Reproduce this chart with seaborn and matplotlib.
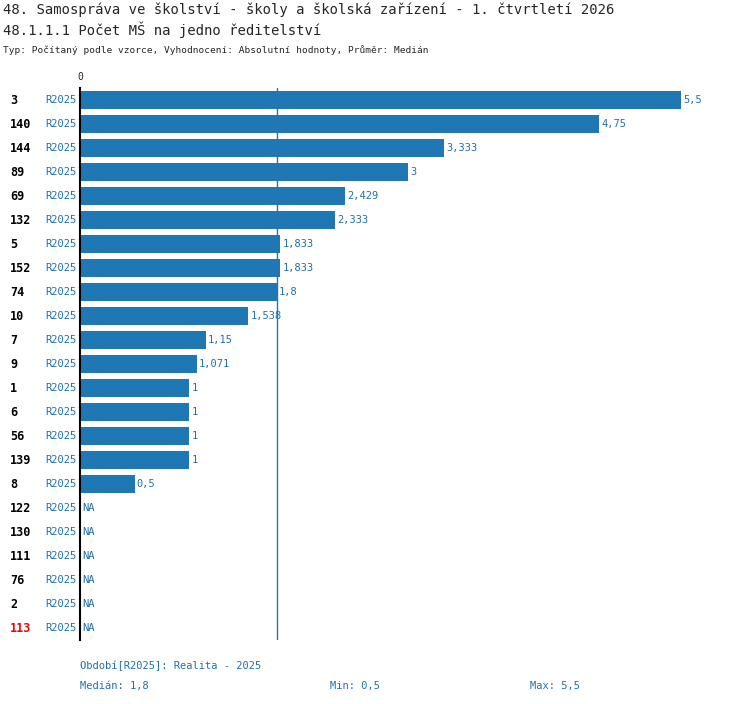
import numpy as np
import pandas as pd
import matplotlib
matplotlib.use("Agg")
import matplotlib.pyplot as plt
import seaborn as sns

# Data
ids = ["3", "140", "144", "89", "69", "132", "5", "152", "74", "10", "7", "9",
       "1", "6", "56", "139", "8", "122", "130", "111", "76", "2", "113"]
values = [5.5, 4.75, 3.333, 3, 2.429, 2.333, 1.833, 1.833, 1.8, 1.538, 1.15, 1.071,
          1, 1, 1, 1, 0.5, np.nan, np.nan, np.nan, np.nan, np.nan, np.nan]
labels = ["5,5", "4,75", "3,333", "3", "2,429", "2,333", "1,833", "1,833", "1,8",
          "1,538", "1,15", "1,071", "1", "1", "1", "1", "0,5", "NA", "NA", "NA",
          "NA", "NA", "NA"]
highlight = "113"
median = 1.8

df = pd.DataFrame({"id": ids, "value": values})

W, H = 750, 704
BLUE = "#1f77b4"
TXT = "#1f6fb0"
FONT = "DejaVu Sans Mono"

sns.set_style("white")
plt.rcParams["font.family"] = [FONT]

fig = plt.figure(figsize=(W / 100, H / 100), dpi=100)
AX_W = 601
ax = fig.add_axes([80 / W, 1 - 640 / H, AX_W / W, 552 / H])
sns.barplot(data=df, x="value", y="id", orient="h", color=BLUE, width=0.75,
            saturation=1, linewidth=0, ax=ax)
ax.set_xlim(0, 5.5)
ax.set_ylim(len(ids) - 0.5, -0.5)
ax.axvline(median, color=BLUE, lw=1)
for s in ["top", "right", "bottom"]:
    ax.spines[s].set_visible(False)
ax.spines["left"].set_color("black")
ax.spines["left"].set_linewidth(1.5)
ax.set_xticks([])
ax.set_yticks([])
ax.set_xlabel("")
ax.set_ylabel("")
ax.text(0, -0.75, "0", fontsize=7, ha="center", va="bottom")

tr = ax.get_yaxis_transform()  # x in axes fraction, y in data
for i, (rid, v, lab) in enumerate(zip(ids, values, labels)):
    x = 0 if np.isnan(v) else v
    ax.text(x + 0.02, i, lab, color=TXT, fontsize=7.5, va="center", clip_on=False)
    ax.text(-3 / AX_W, i, "R2025", color=TXT, fontsize=7.5, va="center", ha="right",
            transform=tr, clip_on=False)
    ax.text(-70 / AX_W, i, rid, color="red" if rid == highlight else "black",
            fontsize=8.5, fontweight="bold", va="center", ha="left",
            transform=tr, clip_on=False)

fig.text(3 / W, 1 - 10 / H, "48. Samospráva ve školství - školy a školská zařízení - 1. čtvrtletí 2026",
         fontsize=10, va="center")
fig.text(3 / W, 1 - 30 / H, "48.1.1.1 Počet MŠ na jedno ředitelství", fontsize=10, va="center")
fig.text(3 / W, 1 - 50 / H, "Typ: Počítaný podle vzorce, Vyhodnocení: Absolutní hodnoty, Průměr: Medián",
         fontsize=6.8, va="center")
fig.text(80 / W, 1 - 666 / H, "Období[R2025]: Realita - 2025", fontsize=7.5, color=TXT, va="center")
fig.text(80 / W, 1 - 686 / H, "Medián: 1,8", fontsize=7.5, color=TXT, va="center")
fig.text(330 / W, 1 - 686 / H, "Min: 0,5", fontsize=7.5, color=TXT, va="center")
fig.text(530 / W, 1 - 686 / H, "Max: 5,5", fontsize=7.5, color=TXT, va="center")

fig.savefig("out.png", dpi=100)
